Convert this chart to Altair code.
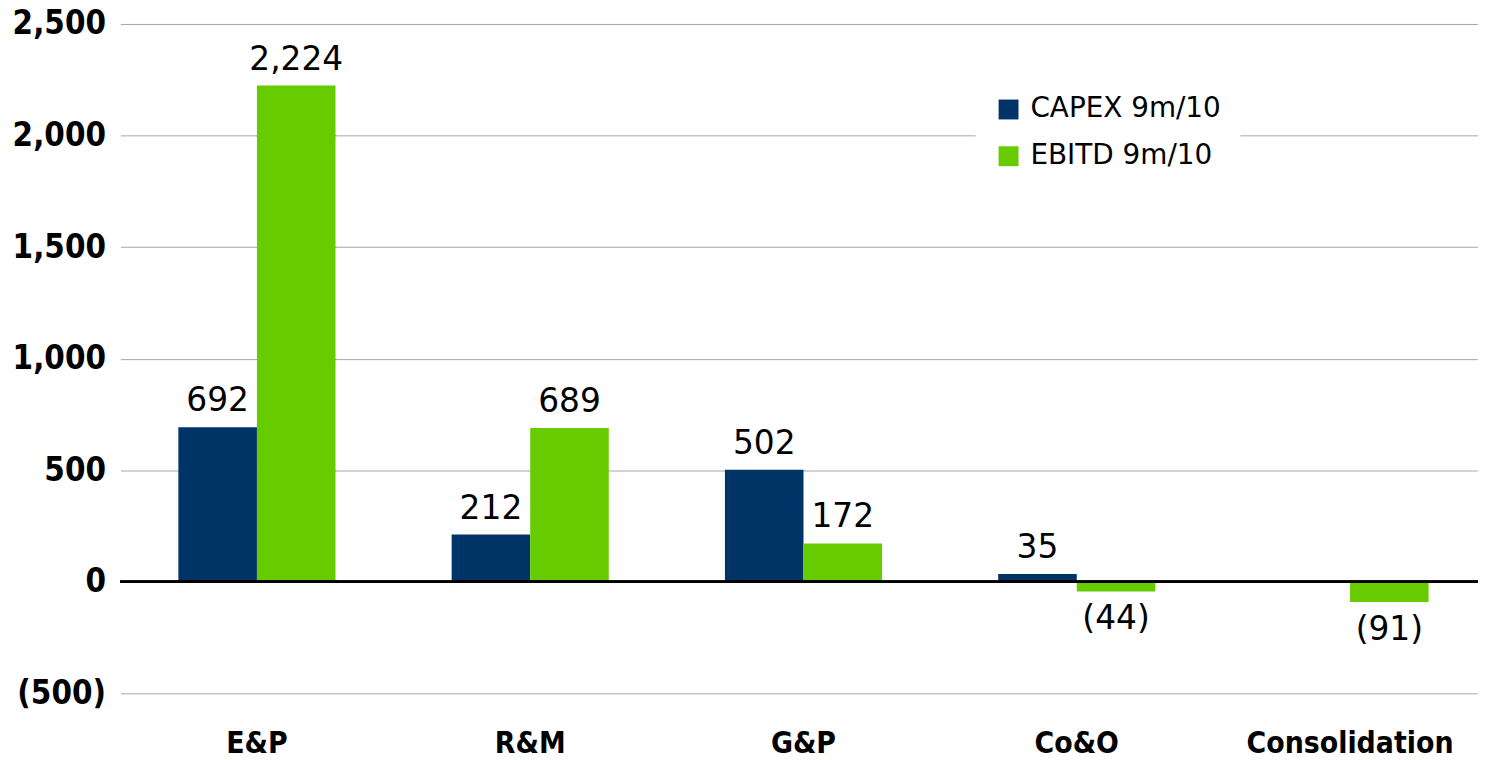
import altair as alt
import pandas as pd

categories = ["E&P", "R&M", "G&P", "Co&O", "Consolidation"]
capex = [692, 212, 502, 35, None]
ebitd = [2224, 689, 172, -44, -91]
series_names = ["CAPEX 9m/10", "EBITD 9m/10"]
colors = ["#003366", "#66cc00"]
y_ticks = [-500, 0, 500, 1000, 1500, 2000, 2500]

rows = []
for c, a, b in zip(categories, capex, ebitd):
    for s, v in zip(series_names, [a, b]):
        if v is None:
            continue
        rows.append({
            "category": c,
            "series": s,
            "value": v,
            "label": f"{v:,}" if v >= 0 else f"({-v:,})",
        })
df = pd.DataFrame(rows)

AXIS_FONT = "DejaVu Sans Condensed, DejaVu Sans"
TEXT_FONT = "DejaVu Sans"

x = alt.X(
    "category:N",
    sort=categories,
    scale=alt.Scale(paddingInner=0.425, paddingOuter=0.1965, align=0.54),
    axis=alt.Axis(
        title=None, labelAngle=0, ticks=False, domain=False, grid=False,
        labelPadding=36, labelFontSize=30, labelFont=AXIS_FONT,
        labelFontWeight="bold", labelColor="black", labelLimit=0,
    ),
)
xoff = alt.XOffset("series:N", sort=series_names)
y = alt.Y(
    "value:Q",
    scale=alt.Scale(domain=[-500, 2500], nice=False, zero=False),
    axis=alt.Axis(
        title=None, values=y_ticks, grid=True, gridColor="#a6a6a6",
        gridWidth=1, ticks=False, domain=False, labelPadding=15,
        labelExpr="datum.value < 0 ? '(' + format(-datum.value, ',') + ')' : format(datum.value, ',')",
        labelFontSize=33, labelFont=AXIS_FONT, labelFontWeight="bold",
        labelColor="black", minExtent=100, maxExtent=100, labelLimit=0,
    ),
)
color = alt.Color(
    "series:N",
    sort=series_names,
    scale=alt.Scale(domain=series_names, range=colors),
    legend=alt.Legend(
        title=None, orient="none", legendX=860, legendY=53,
        symbolType="square", symbolSize=400, symbolStrokeWidth=0,
        labelFontSize=28, labelFont=TEXT_FONT, labelColor="black",
        fillColor="white", padding=19, rowPadding=19, labelOffset=8,
        labelLimit=0,
    ),
)

base = alt.Chart(df)

bars = base.mark_bar(opacity=1).encode(x=x, xOffset=xoff, y=y, color=color)

pos_labels = base.transform_filter("datum.value >= 0").mark_text(
    baseline="alphabetic", dy=-16, fontSize=33, font=TEXT_FONT, color="black"
).encode(x=x, xOffset=xoff, y=y, text="label:N")

neg_labels = base.transform_filter("datum.value < 0").mark_text(
    baseline="alphabetic", dy=38, fontSize=33, font=TEXT_FONT, color="black"
).encode(x=x, xOffset=xoff, y=y, text="label:N")

zero_rule = alt.Chart(df).mark_rule(color="black", strokeWidth=2).encode(
    y=alt.datum(0)
)

chart = alt.layer(bars, zero_rule, pos_labels, neg_labels).properties(
    width=1365,
    height=673,
    autosize=alt.AutoSizeParams(type="none"),
    padding={"left": 113, "top": 14, "right": 0, "bottom": 65},
).configure(background="white").configure_view(stroke=None)

chart.save("out.html", embed_options={"renderer": "svg", "actions": False})
